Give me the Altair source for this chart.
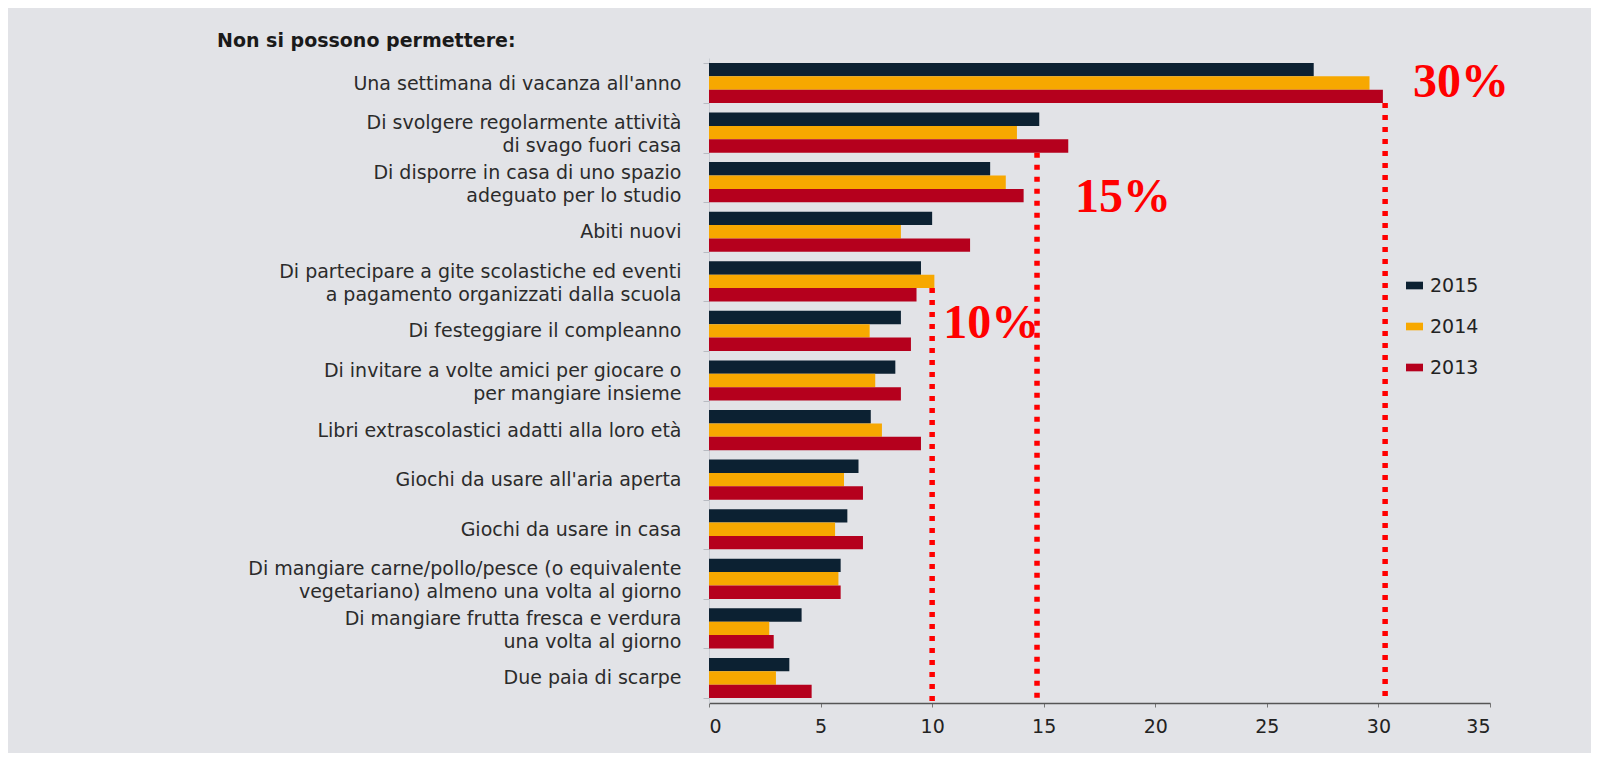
import altair as alt
import pandas as pd

categories = [
    "Una settimana di vacanza all'anno",
    "Di svolgere regolarmente attività\ndi svago fuori casa",
    "Di disporre in casa di uno spazio\nadeguato per lo studio",
    "Abiti nuovi",
    "Di partecipare a gite scolastiche ed eventi\na pagamento organizzati dalla scuola",
    "Di festeggiare il compleanno",
    "Di invitare a volte amici per giocare o\nper mangiare insieme",
    "Libri extrascolastici adatti alla loro età",
    "Giochi da usare all'aria aperta",
    "Giochi da usare in casa",
    "Di mangiare carne/pollo/pesce (o equivalente\nvegetariano) almeno una volta al giorno",
    "Di mangiare frutta fresca e verdura\nuna volta al giorno",
    "Due paia di scarpe",
]
years = ["2015", "2014", "2013"]
v2015 = [27.1, 14.8, 12.6, 10.0, 9.5, 8.6, 8.35, 7.25, 6.7, 6.2, 5.9, 4.15, 3.6]
v2014 = [29.6, 13.8, 13.3, 8.6, 10.1, 7.2, 7.45, 7.75, 6.05, 5.65, 5.8, 2.7, 3.0]
v2013 = [30.2, 16.1, 14.1, 11.7, 9.3, 9.05, 8.6, 9.5, 6.9, 6.9, 5.9, 2.9, 4.6]
colors = ["#0c2132", "#f7a800", "#b5001d"]

title_text = "Non si possono permettere:"

# annotation lines: value, label, start category, fraction of band where line starts
ann_values = [30.3, 14.7, 10.0]
ann_labels = ["30%", "15%", "10%"]
ann_start_cat = [0, 1, 4]
ann_start_frac = [1.0, 1.0, 0.667]
ann_text_cat = [0, 2, 5]
ann_text_dx = [28, 38, 11]
ann_text_dy = [0, 16, -7]

rows = []
for y, vals in zip(years, [v2015, v2014, v2013]):
    for c, v in zip(categories, vals):
        rows.append({"categoria": c, "anno": y, "valore": v})
df = pd.DataFrame(rows)

ycat = alt.Y(
    "categoria:N",
    sort=categories,
    scale=alt.Scale(paddingInner=0.19, paddingOuter=0.1),
    axis=alt.Axis(
        title=None,
        labelExpr="split(datum.label, '\\n')",
        labelFont="DejaVu Sans",
        labelFontSize=19,
        labelColor="#2b2b2b",
        labelLineHeight=23,
        labelPadding=22,
        labelLimit=700,
        labelOffset={"condition": {"test": "indexof(datum.label, '\\n') >= 0", "value": -10}, "value": 0},
        tickBand="extent",
        tickSize=6,
        tickColor="#b8bbc2",
        domainColor="#c9ccd2",
        domainWidth=1,
    ),
)

bars = alt.Chart(df).mark_bar(cornerRadius=0).encode(
    x=alt.X(
        "valore:Q",
        scale=alt.Scale(domain=[0, 35], nice=False),
        axis=alt.Axis(
            title=None,
            values=[0, 5, 10, 15, 20, 25, 30, 35],
            grid=False,
            labelFont="DejaVu Sans",
            labelFontSize=19,
            labelColor="#222222",
            labelPadding=10,
            tickSize=4,
            tickColor="#777777",
            domainColor="#555555",
            domainWidth=1.5,
        ),
    ),
    y=ycat,
    yOffset=alt.YOffset("anno:N", sort=years, scale=alt.Scale(paddingInner=0, paddingOuter=0)),
    color=alt.Color(
        "anno:N",
        sort=years,
        scale=alt.Scale(domain=years, range=colors),
        legend=alt.Legend(
            title=None,
            orient="none",
            legendX=696,
            legendY=218,
            symbolType="M-1,-0.45H1V0.45H-1Z",
            symbolSize=289,
            symbolStrokeWidth=0,
            labelFont="DejaVu Sans",
            labelFontSize=19,
            labelColor="#222222",
            labelOffset=6,
            rowPadding=21,
        ),
    ),
)

title_mark = alt.Chart(pd.DataFrame({"t": [title_text]})).mark_text(
    align="left", baseline="middle", font="DejaVu Sans", fontSize=19,
    fontWeight="bold", color="#1a1a1a",
).encode(x=alt.value(-492), y=alt.value(-17), text="t:N")

layers = [bars, title_mark]
for i in range(len(ann_values)):
    d = pd.DataFrame({
        "valore": [ann_values[i]],
        "categoria": [categories[ann_start_cat[i]]],
    })
    rule = alt.Chart(d).mark_rule(
        color="#ff0000", strokeWidth=5.5, strokeDash=[5, 7], strokeCap="butt"
    ).encode(
        x=alt.X("valore:Q"),
        y=alt.Y("categoria:N", sort=categories, bandPosition=ann_start_frac[i]),
        y2=alt.value(645),
    )
    layers.append(rule)
    t = pd.DataFrame({
        "valore": [ann_values[i]],
        "categoria": [categories[ann_text_cat[i]]],
        "testo": [ann_labels[i]],
    })
    txt = alt.Chart(t).mark_text(
        font="Liberation Serif", fontWeight="bold", fontSize=48, color="#ff0000",
        align="left", baseline="middle", dx=ann_text_dx[i], dy=ann_text_dy[i],
    ).encode(
        x=alt.X("valore:Q"),
        y=alt.Y("categoria:N", sort=categories),
        text="testo:N",
    )
    layers.append(txt)

chart = alt.layer(*layers).properties(
    width=781,
    height=645,
    padding={"left": 701, "top": 50, "right": 101, "bottom": 50},
    autosize=alt.AutoSizeParams(type="none"),
    background="#e2e3e7",
).configure_view(stroke=None)

chart.save("out.html", embed_options={"renderer": "svg", "actions": False})
